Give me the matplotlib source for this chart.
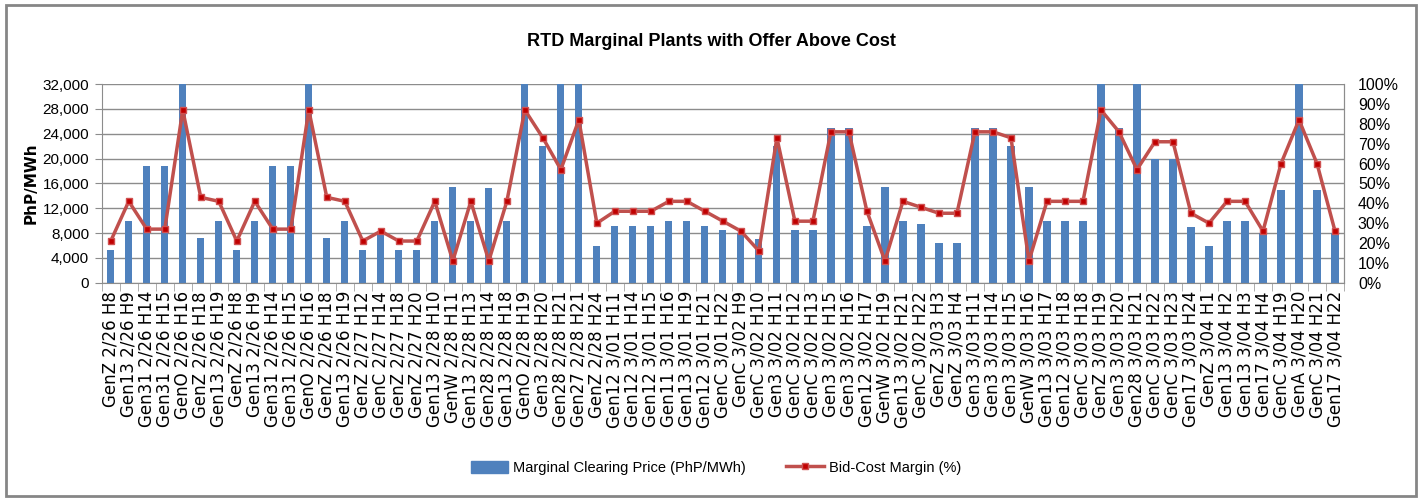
import matplotlib.pyplot as plt
import numpy as np
from matplotlib.patches import Rectangle
from matplotlib.lines import Line2D

# Category labels (plant / date / hour)
labels = [
    "GenZ 2/26 H8", "Gen13 2/26 H9", "Gen31 2/26 H14", "Gen31 2/26 H15", "GenO 2/26 H16",
    "GenZ 2/26 H18", "Gen13 2/26 H19", "GenZ 2/26 H8", "Gen13 2/26 H9", "Gen31 2/26 H14",
    "Gen31 2/26 H15", "GenO 2/26 H16", "GenZ 2/26 H18", "Gen13 2/26 H19", "GenZ 2/27 H12",
    "GenC 2/27 H14", "GenZ 2/27 H18", "GenZ 2/27 H20", "Gen13 2/28 H10", "GenW 2/28 H11",
    "Gen13 2/28 H13", "Gen28 2/28 H14", "Gen13 2/28 H18", "GenO 2/28 H19", "Gen3 2/28 H20",
    "Gen28 2/28 H21", "Gen27 2/28 H21", "GenZ 2/28 H24", "Gen12 3/01 H11", "Gen12 3/01 H14",
    "Gen12 3/01 H15", "Gen11 3/01 H16", "Gen13 3/01 H19", "Gen12 3/01 H21", "GenC 3/01 H22",
    "GenC 3/02 H9", "GenC 3/02 H10", "Gen3 3/02 H11", "GenC 3/02 H12", "GenC 3/02 H13",
    "Gen3 3/02 H15", "Gen3 3/02 H16", "Gen12 3/02 H17", "GenW 3/02 H19", "Gen13 3/02 H21",
    "GenC 3/02 H22", "GenZ 3/03 H3", "GenZ 3/03 H4", "Gen3 3/03 H11", "Gen3 3/03 H14",
    "Gen3 3/03 H15", "GenW 3/03 H16", "Gen13 3/03 H17", "Gen12 3/03 H18", "GenC 3/03 H18",
    "GenZ 3/03 H19", "Gen3 3/03 H20", "Gen28 3/03 H21", "GenC 3/03 H22", "GenC 3/03 H23",
    "Gen17 3/03 H24", "GenZ 3/04 H1", "Gen13 3/04 H2", "Gen13 3/04 H3", "Gen17 3/04 H4",
    "GenC 3/04 H19", "GenA 3/04 H20", "GenC 3/04 H21", "Gen17 3/04 H22",
]

# Marginal clearing price (PhP/MWh); bars reaching the top are cut at 32,000
price = [
    5300, 10000, 18800, 18800, 32000, 7200, 10000, 5300, 10000, 18800,
    18800, 32000, 7200, 10000, 5300, 8200, 5300, 5300, 10000, 15500,
    10000, 15300, 10000, 32000, 22000, 32000, 32000, 5900, 9200, 9200,
    9200, 10000, 10000, 9200, 8500, 8000, 7000, 22000, 8500, 8500,
    25000, 25000, 9200, 15500, 10000, 9500, 6400, 6400, 25000, 25000,
    22000, 15500, 10000, 10000, 10000, 32000, 25000, 32000, 20000, 20000,
    9000, 5900, 10000, 10000, 8000, 15000, 32000, 15000, 8000,
]

# Bid-cost margin (%)
margin = [
    21, 41, 27, 27, 87, 43, 41, 21, 41, 27,
    27, 87, 43, 41, 21, 26, 21, 21, 41, 11,
    41, 11, 41, 87, 73, 57, 82, 30, 36, 36,
    36, 41, 41, 36, 31, 26, 16, 73, 31, 31,
    76, 76, 36, 11, 41, 38, 35, 35, 76, 76,
    73, 11, 41, 41, 41, 87, 76, 57, 71, 71,
    35, 30, 41, 41, 26, 60, 82, 60, 26,
]

FONT = "Liberation Sans"

fig = plt.figure(figsize=(14.23, 5.04), dpi=100)
ax = fig.add_axes([0.0715, 0.439, 0.873, 0.394])

x = np.arange(len(labels))
ax.bar(x, price, width=0.4, color="#4F81BD", zorder=2)
ax.set_xlim(-0.5, len(labels) - 0.5)
ax.set_ylim(0, 32000)
ax.set_yticks(np.arange(0, 32001, 4000))
ax.set_yticklabels([f"{v:,}" for v in range(0, 32001, 4000)], family=FONT, fontsize=11)
ax.yaxis.grid(True, color="#8C8C8C", linewidth=1, zorder=0)
ax.set_ylabel("PhP/MWh", fontsize=11, fontweight="bold", family="DejaVu Sans", labelpad=3)

ax.set_xticks(x)
ax.set_xticklabels(labels, rotation=90, fontsize=12, family="DejaVu Sans")
ax.tick_params(axis="x", length=0, pad=6)
ax.set_xticks(np.arange(-0.5, len(labels)), minor=True)
ax.tick_params(axis="x", which="minor", length=6, color="#A0A0A0", direction="out")
ax.tick_params(axis="y", length=5, color="#8C8C8C", pad=4)

ax.spines["top"].set_visible(False)
for s in ["left", "bottom", "right"]:
    ax.spines[s].set_color("#8C8C8C")

ax2 = ax.twinx()
ax2.plot(x, margin, color="#C0504D", linewidth=2.5, marker="s", markersize=5,
         markerfacecolor="#C00000", markeredgecolor="#D05050", markeredgewidth=1, zorder=3)
ax2.set_ylim(0, 100)
ax2.set_yticks(np.arange(0, 101, 10))
ax2.set_yticklabels([f"{v}%" for v in range(0, 101, 10)], family=FONT, fontsize=11.5)
ax2.tick_params(axis="y", length=0, pad=10)
ax2.spines["top"].set_visible(False)
ax2.spines["right"].set_color("#8C8C8C")
ax2.spines["left"].set_visible(False)
ax2.spines["bottom"].set_visible(False)

fig.text(0.5, 0.917, "RTD Marginal Plants with Offer Above Cost", ha="center", va="center",
         fontsize=13, fontweight="bold", family=FONT)

handles = [
    Rectangle((0, 0), 1, 1, color="#4F81BD"),
    Line2D([], [], color="#C0504D", linewidth=2.5, marker="s", markersize=5,
           markerfacecolor="#C00000", markeredgecolor="#D05050"),
]
fig.legend(handles, ["Marginal Clearing Price (PhP/MWh)", "Bid-Cost Margin (%)"],
           loc="center", bbox_to_anchor=(0.503, 0.072), ncol=2, frameon=False,
           prop={"family": FONT, "size": 10.5},
           handlelength=2.6, handleheight=0.9, handletextpad=0.3, columnspacing=2.8)

# outer chart border
fig.patches.append(Rectangle((0.004, 0.016), 0.991, 0.974, transform=fig.transFigure,
                             fill=False, edgecolor="#868686", linewidth=2))

fig.savefig("out.png", dpi=100)
